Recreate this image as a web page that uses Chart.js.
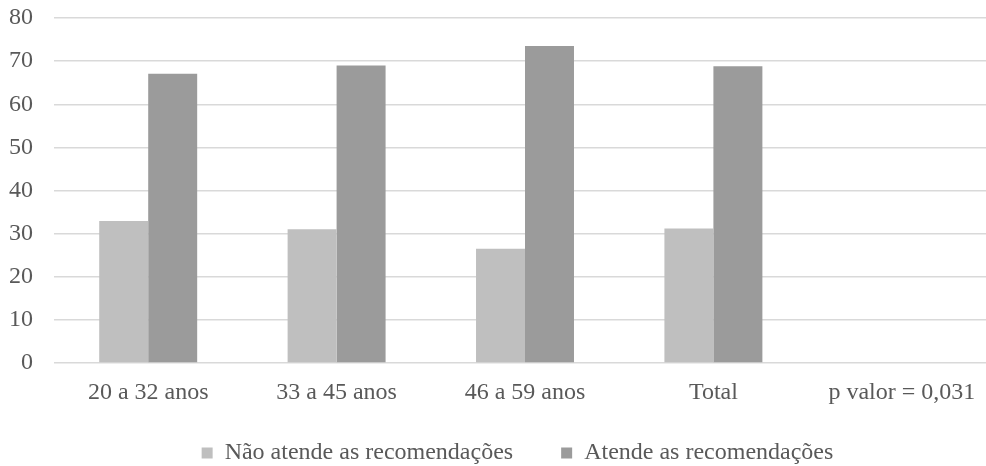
<!DOCTYPE html>
<html lang="pt">
<head>
    <meta charset="UTF-8">
    <title>Recomendações por faixa etária</title>
    <script src="https://cdn.jsdelivr.net/npm/chart.js"></script>
    <style>
        html, body { margin: 0; padding: 0; background: #ffffff; overflow: hidden; }
        /* o original está cortado à direita: o gráfico é um pouco mais largo que a janela */
        #wrap { width: 996px; height: 466px; }
    </style>
</head>
<body>
    <div id="wrap"><canvas id="grafico"></canvas></div>
    <script>
        // dados
        const categorias = ['20 a 32 anos', '33 a 45 anos', '46 a 59 anos', 'Total', 'p valor = 0,031'];
        const naoAtende = [32.9, 31.0, 26.5, 31.2, null];
        const atende = [67.1, 69.0, 73.5, 68.8, null];
        const nomesSeries = ['Não atende as recomendações', 'Atende as recomendações'];
        const yTicks = [0, 10, 20, 30, 40, 50, 60, 70, 80];

        const fonte = { family: '"Liberation Serif", "Times New Roman", serif', size: 24 };
        const cinzaTexto = '#595959';

        Chart.defaults.font.family = fonte.family;
        Chart.defaults.font.size = fonte.size;
        Chart.defaults.color = cinzaTexto;

        // a legenda do original fica um pouco à direita do centro
        const moverLegenda = {
            id: 'moverLegenda',
            afterLayout(chart) {
                chart.legend.left += 15;
                chart.legend.right += 15;
            }
        };

        const ctx = document.getElementById('grafico').getContext('2d');
        new Chart(ctx, {
            type: 'bar',
            data: {
                labels: categorias,
                datasets: [
                    { label: nomesSeries[0], data: naoAtende, backgroundColor: '#bfbfbf' },
                    { label: nomesSeries[1], data: atende, backgroundColor: '#9b9b9b' }
                ]
            },
            options: {
                responsive: true,
                maintainAspectRatio: false,
                animation: false,
                layout: { padding: { left: 9, top: 4, right: 0, bottom: -9 } },
                datasets: { bar: { categoryPercentage: 0.52, barPercentage: 1 } },
                plugins: {
                    tooltip: { enabled: false },
                    legend: {
                        position: 'bottom',
                        labels: {
                            boxWidth: 11,
                            boxHeight: 11,
                            padding: 30,
                            color: cinzaTexto,
                            font: fonte,
                            generateLabels: function(chart) {
                                const itens = Chart.defaults.plugins.legend.labels.generateLabels(chart);
                                // espaço extra entre as duas entradas
                                itens[0].text = itens[0].text + '   ';
                                itens.forEach(i => { i.lineWidth = 0; });
                                return itens;
                            }
                        }
                    }
                },
                scales: {
                    x: {
                        grid: { display: false, drawTicks: false },
                        border: { display: false },
                        ticks: { padding: 15, color: cinzaTexto, font: fonte, maxRotation: 0 },
                        afterFit: axis => { axis.height = 48; axis.paddingLeft = 0; axis.paddingRight = 0; }
                    },
                    y: {
                        min: 0,
                        max: 80,
                        afterBuildTicks: axis => { axis.ticks = yTicks.map(v => ({ value: v })); },
                        grid: { color: '#d9d9d9', lineWidth: 1.5, drawTicks: false },
                        border: { display: false },
                        ticks: { padding: 21, color: cinzaTexto, font: fonte },
                        afterFit: axis => { axis.width = 45; axis.paddingTop = 18; axis.paddingBottom = 14.4; }
                    }
                }
            },
            plugins: [moverLegenda]
        });
    </script>
</body>
</html>
